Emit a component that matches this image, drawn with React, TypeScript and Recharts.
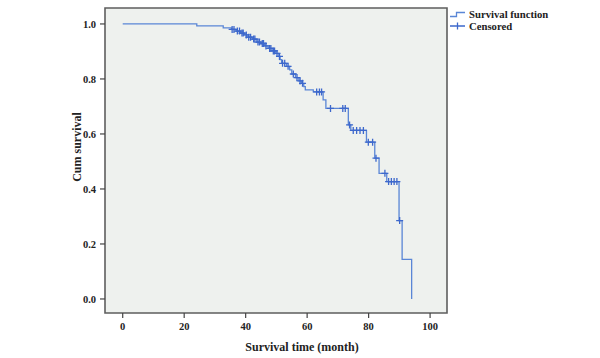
import React from 'react';
import { ComposedChart, Line, Scatter, XAxis, YAxis, ReferenceArea } from 'recharts';

// Kaplan-Meier step points: time (months) and cumulative survival after the event
const eventTimes = [0, 24.1, 32.7, 35.4, 36.8, 38.3, 39.5, 40.8, 42.2, 43.6, 45.0, 46.2, 47.3, 48.6, 49.8, 50.8, 51.2, 51.7, 53.3, 54.3, 55.0, 56.2, 57.3, 58.2, 58.9, 59.4, 62.0, 65.2, 66.1, 73.4, 74.2, 79.3, 82.0, 83.4, 85.9, 89.9, 90.9, 94.0];
const survival = [1.0, 0.993, 0.986, 0.98, 0.974, 0.967, 0.96, 0.952, 0.945, 0.934, 0.929, 0.92, 0.911, 0.902, 0.893, 0.882, 0.87, 0.857, 0.846, 0.833, 0.818, 0.805, 0.793, 0.784, 0.772, 0.76, 0.753, 0.724, 0.693, 0.633, 0.613, 0.57, 0.512, 0.457, 0.427, 0.285, 0.144, 0.0];
// Censored observation times
const censorTimes = [35.6, 36.2, 37.3, 38.0, 38.8, 39.2, 40.2, 41.0, 41.6, 42.6, 43.0, 44.0, 44.5, 45.4, 45.8, 46.6, 47.8, 48.2, 49.0, 49.4, 50.2, 51.0, 52.0, 52.7, 53.8, 55.5, 56.7, 57.7, 58.5, 63.1, 64.0, 64.7, 67.6, 71.6, 72.4, 73.8, 75.0, 76.1, 77.2, 78.3, 79.9, 81.3, 82.4, 85.3, 86.5, 87.4, 88.3, 89.2, 90.1];
const xTicks = [0, 20, 40, 60, 80, 100];
const yTicks = [0, 0.2, 0.4, 0.6, 0.8, 1.0];
const legendLabels = ['Survival function', 'Censored'];

const X_DOMAIN: [number, number] = [-5.76, 105.5];
const Y_DOMAIN: [number, number] = [-0.051, 1.058];

const FONT = '"Liberation Serif", "DejaVu Serif", serif';
const LINE = '#5a86d6';
const MARK = '#3d68cc';

const stepData = eventTimes.map((t, i) => ({ t, s: survival[i] }));

function survivalAt(t: number): number {
  let s = survival[0];
  for (let i = 0; i < eventTimes.length; i++) {
    if (eventTimes[i] <= t) s = survival[i];
  }
  return s;
}

const censorData = censorTimes.map((t) => ({ t, s: survivalAt(t) }));

const CrossShape = (props: any) => {
  const { cx, cy } = props;
  if (cx == null || cy == null) return null;
  return (
    <path
      d={`M${cx - 3.5},${cy}H${cx + 3.5}M${cx},${cy - 3.5}V${cy + 3.5}`}
      stroke={MARK}
      strokeWidth={1.3}
      fill="none"
    />
  );
};

const XLabel = (props: any) => {
  const vb = props.viewBox || { x: 105, y: 313, width: 342, height: 45 };
  return (
    <text
      x={vb.x + vb.width / 2 + 26}
      y={351}
      textAnchor="middle"
      fontFamily={FONT}
      fontWeight="bold"
      fontSize={12}
      fill="#222"
    >
      Survival time (month)
    </text>
  );
};

const YLabel = () => {
  return (
    <text
      x={0}
      y={0}
      transform={`translate(81, 147) rotate(-90)`}
      textAnchor="middle"
      fontFamily={FONT}
      fontWeight="bold"
      fontSize={12}
      fill="#222"
    >
      Cum survival
    </text>
  );
};

const LegendBox = () => (
  <div
    style={{
      position: 'absolute',
      left: 449,
      top: 9,
      fontFamily: FONT,
      fontWeight: 'bold',
      fontSize: 10.7,
      color: '#222',
      lineHeight: '11.5px',
    }}
  >
    <div style={{ display: 'flex', alignItems: 'center', height: 11.5 }}>
      <svg width={20} height={11} style={{ display: 'block' }}>
        <path d="M1,7.5H7.5V3.5H16" stroke={LINE} strokeWidth={1.3} fill="none" />
      </svg>
      <span>{legendLabels[0]}</span>
    </div>
    <div style={{ display: 'flex', alignItems: 'center', height: 11.5 }}>
      <svg width={20} height={11} style={{ display: 'block' }}>
        <path d="M1,5H16M8.5,1.5V8.5" stroke={MARK} strokeWidth={1.3} fill="none" />
      </svg>
      <span>{legendLabels[1]}</span>
    </div>
  </div>
);

export default function App() {
  return (
    <div style={{ position: 'absolute', left: 0, top: 0, width: 600, height: 358, background: '#fff' }}>
      <ComposedChart
        width={600}
        height={358}
        data={stepData}
        margin={{ top: 8, right: 153, bottom: 0, left: 0 }}
      >
        <ReferenceArea
          x1={X_DOMAIN[0]}
          x2={X_DOMAIN[1]}
          y1={Y_DOMAIN[0]}
          y2={Y_DOMAIN[1]}
          fill="#eef1ee"
          fillOpacity={1}
          stroke="#5e5e5e"
          strokeWidth={1.6}
          ifOverflow="visible"
        />
        <XAxis
          type="number"
          dataKey="t"
          domain={X_DOMAIN}
          ticks={xTicks}
          allowDataOverflow
          height={45}
          axisLine={false}
          tickLine={{ stroke: '#444', strokeWidth: 1.2 }}
          tickSize={5}
          tickMargin={5}
          tick={{ fontSize: 10.5, fill: '#222', fontFamily: FONT, fontWeight: 'bold' }}
          label={<XLabel />}
        />
        <YAxis
          type="number"
          domain={Y_DOMAIN}
          ticks={yTicks}
          allowDataOverflow
          width={105}
          axisLine={false}
          tickLine={{ stroke: '#444', strokeWidth: 1.2 }}
          tickSize={5}
          tickMargin={4}
          tickFormatter={(v: number) => v.toFixed(1)}
          tick={{ fontSize: 10.5, fill: '#222', fontFamily: FONT, fontWeight: 'bold' }}
          label={<YLabel />}
        />
        <Line
          type="stepAfter"
          dataKey="s"
          stroke={LINE}
          strokeWidth={1.3}
          dot={false}
          activeDot={false}
          isAnimationActive={false}
        />
        <Scatter
          data={censorData}
          dataKey="s"
          shape={<CrossShape />}
          isAnimationActive={false}
        />
      </ComposedChart>
      <LegendBox />
    </div>
  );
}
